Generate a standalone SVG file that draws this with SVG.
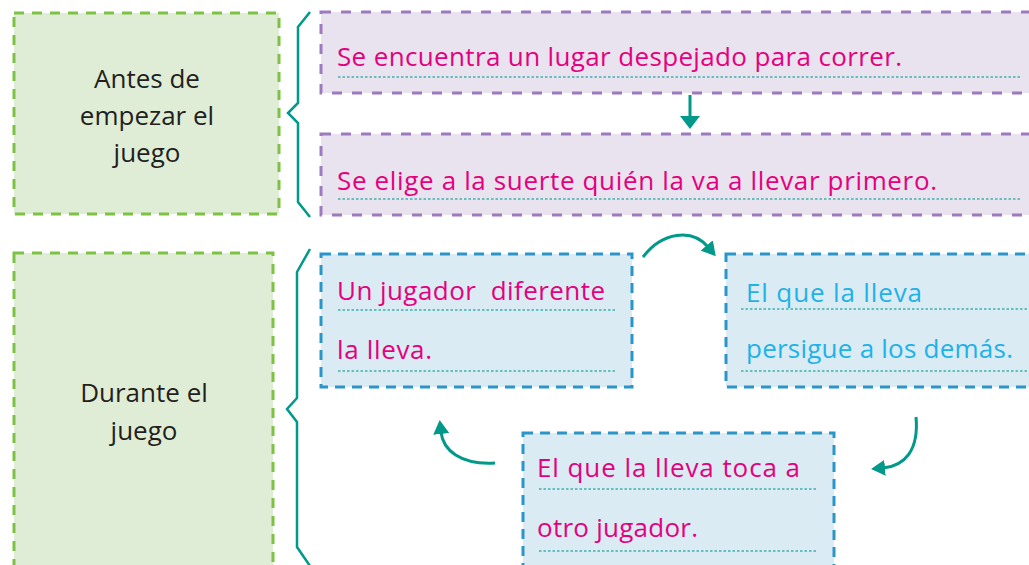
<svg xmlns="http://www.w3.org/2000/svg" width="1029" height="565" viewBox="0 0 1029 565">
<style>
.green{fill:#e0edd6;stroke:#7dc242;stroke-width:3;stroke-dasharray:10 8}
.purple{fill:#e8e3ef;stroke:#9c7abd;stroke-width:3;stroke-dasharray:10 10}
.blue{fill:#daebf4;stroke:#2a95c8;stroke-width:3;stroke-dasharray:10 7}
.dots{stroke:#3eb3ae;stroke-width:1.3;stroke-dasharray:2.5 2;fill:none}
.t{font-family:"Open Sans","Noto Sans",sans-serif;font-size:26px}
.lbl{fill:#231f20;text-anchor:middle}
.pink{fill:#e6007e}
.cyan{fill:#1fb2e8}
.brace{fill:none;stroke:#00998a;stroke-width:2.5;stroke-linejoin:miter}
.conn{fill:none;stroke:#00998a;stroke-width:3}
</style>
<defs>
<marker id="ah" viewBox="0 0 14 16" refX="2" refY="8" markerWidth="14" markerHeight="16" markerUnits="userSpaceOnUse" orient="auto">
<path d="M0,0 L14,8 L0,16 z" fill="#00998a"/>
</marker>
<marker id="ah2" viewBox="0 0 13 20" refX="1" refY="10" markerWidth="13" markerHeight="20" markerUnits="userSpaceOnUse" orient="auto">
<path d="M0,0 L13,10 L0,20 z" fill="#00998a"/>
</marker>
</defs>

<g id="before-label">
<rect class="green" x="14" y="13" width="265" height="201"/>
<text class="t lbl" x="147" y="88">Antes de</text>
<text class="t lbl" x="147" y="125">empezar el</text>
<text class="t lbl" x="147" y="162">juego</text>
</g>

<g id="during-label">
<rect class="green" x="14" y="253" width="259" height="340"/>
<text class="t lbl" x="144" y="402">Durante el</text>
<text class="t lbl" x="144" y="440">juego</text>
</g>

<g id="brace-before">
<path class="brace" d="M310,12 L298,27 L298,103 L288,113 L298,123 L298,202 L310,217"/>
</g>
<g id="brace-during">
<path class="brace" d="M310,249 L297,272 L297,398 L287,409 L297,422 L297,547 L310,566"/>
</g>

<g id="step-1">
<rect class="purple" x="321" y="12" width="730" height="81"/>
<line class="dots" x1="338" y1="77" x2="1021" y2="77"/>
<text class="t pink" x="337" y="66" textLength="565">Se encuentra un lugar despejado para correr.</text>
</g>

<g id="step-2">
<rect class="purple" x="321" y="134" width="730" height="81"/>
<line class="dots" x1="338" y1="199" x2="1021" y2="199"/>
<text class="t pink" x="337" y="190" textLength="600">Se elige a la suerte quién la va a llevar primero.</text>
</g>

<g id="cycle-1">
<rect class="blue" x="321" y="254" width="311" height="133"/>
<line class="dots" x1="338" y1="310" x2="617" y2="310"/>
<line class="dots" x1="338" y1="371" x2="617" y2="371"/>
<text class="t pink" x="337" y="300" textLength="268" xml:space="preserve">Un jugador  diferente</text>
<text class="t pink" x="337" y="359" textLength="95">la lleva.</text>
</g>

<g id="cycle-2">
<rect class="blue" x="726" y="254" width="330" height="133"/>
<line class="dots" x1="741" y1="309" x2="1029" y2="309"/>
<line class="dots" x1="741" y1="371" x2="1029" y2="371"/>
<text class="t cyan" x="746" y="302" textLength="176">El que la lleva</text>
<text class="t cyan" x="746" y="358" textLength="267">persigue a los demás.</text>
</g>

<g id="cycle-3">
<rect class="blue" x="523" y="433" width="311" height="150"/>
<line class="dots" x1="539" y1="489" x2="818" y2="489"/>
<line class="dots" x1="539" y1="551" x2="818" y2="551"/>
<text class="t pink" x="537" y="477" textLength="263">El que la lleva toca a</text>
<text class="t pink" x="537" y="537" textLength="161">otro jugador.</text>
</g>

<g id="connectors">
<path class="conn" d="M690,95 L690,117" marker-end="url(#ah2)"/>
<path class="conn" d="M643,257 C662,232 692,228 708,247" marker-end="url(#ah)"/>
<path class="conn" d="M916,417 C919,450 905,466 883,468" marker-end="url(#ah)"/>
<path class="conn" d="M495,463 C460,465 443,450 441,432" marker-end="url(#ah)"/>
</g>
</svg>
